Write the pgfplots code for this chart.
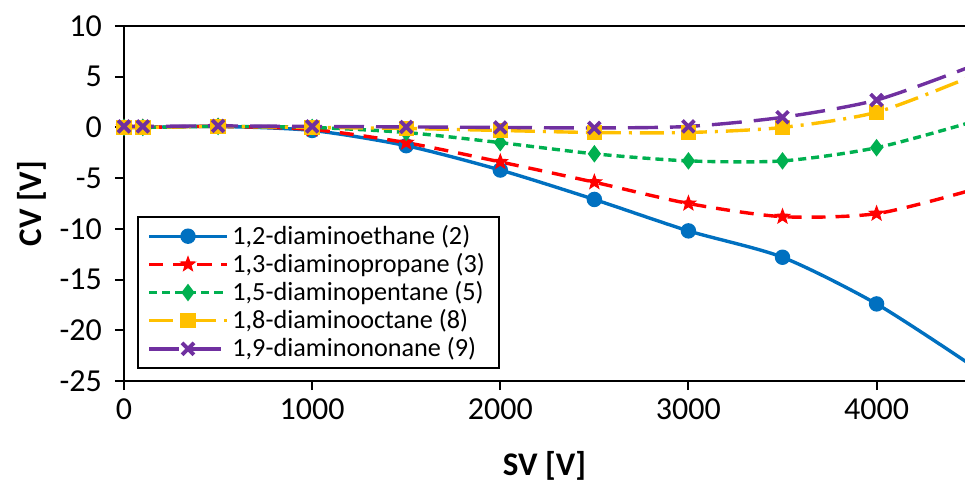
\documentclass[border=0pt]{standalone}
\usepackage{pgfplots}
\pgfplotsset{compat=1.18}
\usepackage{fontspec}
\setmainfont{Carlito}
\definecolor{cblue}{HTML}{0070C0}
\definecolor{cred}{HTML}{FF0000}
\definecolor{cgreen}{HTML}{00B050}
\definecolor{cyellow}{HTML}{FFC000}
\definecolor{cpurple}{HTML}{7030A0}
\pgfdeclareplotmark{fstar}{%
  \pgfpathmoveto{\pgfpointpolar{90}{\pgfplotmarksize}}%
  \pgfpathlineto{\pgfpointpolar{126}{0.42\pgfplotmarksize}}%
  \pgfpathlineto{\pgfpointpolar{162}{\pgfplotmarksize}}%
  \pgfpathlineto{\pgfpointpolar{198}{0.42\pgfplotmarksize}}%
  \pgfpathlineto{\pgfpointpolar{234}{\pgfplotmarksize}}%
  \pgfpathlineto{\pgfpointpolar{270}{0.42\pgfplotmarksize}}%
  \pgfpathlineto{\pgfpointpolar{306}{\pgfplotmarksize}}%
  \pgfpathlineto{\pgfpointpolar{342}{0.42\pgfplotmarksize}}%
  \pgfpathlineto{\pgfpointpolar{18}{\pgfplotmarksize}}%
  \pgfpathlineto{\pgfpointpolar{54}{0.42\pgfplotmarksize}}%
  \pgfpathclose\pgfusepathqfillstroke}
\begin{document}
\begin{tikzpicture}
\begin{axis}[
  scale only axis,
  width=420.5pt, height=177.5pt,
  xmin=0, xmax=4470, ymin=-25, ymax=10,
  xtick={0,1000,2000,3000,4000},
  ytick={-25,-20,-15,-10,-5,0,5,10},
  axis x line*=bottom, axis y line*=left,
  axis line style={-, line width=1pt, black},
  tick align=outside,
  major tick length=4.5pt,
  tick style={line width=1pt, black},
  /pgf/number format/assume math mode=true,
  /pgf/number format/set thousands separator={},
  ticklabel style={font=\fontsize{16}{19}\selectfont},
  yticklabel style={xshift=-3pt},
  xticklabel style={yshift=-1pt},
  xlabel={\textbf{SV [V]}},
  ylabel={\textbf{CV [V]}},
  label style={font=\fontsize{16.5}{19}\selectfont},
  xlabel style={yshift=-9pt},
  ylabel style={yshift=0pt},
  legend cell align=left,
  legend style={at={(rel axis cs:0.015,0.034)}, anchor=south west,
    draw=black, line width=1pt, font=\fontsize{13.1}{15}\selectfont,
    row sep=-1pt, inner xsep=5pt, inner ysep=2pt},
  legend image code/.code={
    \draw[mark repeat=2,mark phase=2] plot coordinates {(0cm,0cm) (0.68cm,0cm) (1.36cm,0cm)};
  },
  every axis plot/.append style={line width=1.7pt, smooth, tension=0.45},
]
\addplot[cblue, mark=*, mark size=3pt, mark options={solid}] coordinates {
(0,0) (100,0) (500,0.1) (1000,-0.3) (1500,-1.8) (2000,-4.2) (2500,-7.1) (3000,-10.2) (3500,-12.8) (4000,-17.4) (4500,-23.4)};
\addlegendentry{1,2-diaminoethane (2)}
\addplot[cred, dash pattern=on 7pt off 5pt, mark=fstar, mark size=3.8pt, mark options={solid, fill=cred, line width=0.5pt}] coordinates {
(0,0) (100,0) (500,0.1) (1000,-0.2) (1500,-1.5) (2000,-3.4) (2500,-5.4) (3000,-7.5) (3500,-8.8) (4000,-8.5) (4500,-6.2)};
\addlegendentry{1,3-diaminopropane (3)}
\addplot[cgreen, dash pattern=on 4pt off 2.5pt, mark=diamond*, mark size=3pt, mark options={solid}] coordinates {
(0,0) (100,0) (500,0.1) (1000,0) (1500,-0.5) (2000,-1.5) (2500,-2.6) (3000,-3.3) (3500,-3.3) (4000,-2.0) (4500,0.5)};
\addlegendentry{1,5-diaminopentane (5)}
\addplot[cyellow, dash pattern=on 12pt off 4pt on 1.5pt off 4pt, mark=square*, mark size=3pt, mark options={solid}] coordinates {
(0,0) (100,0) (500,0.1) (1000,0) (1500,-0.1) (2000,-0.3) (2500,-0.5) (3000,-0.5) (3500,0.0) (4000,1.5) (4500,5.0)};
\addlegendentry{1,8-diaminooctane (8)}
\addplot[cpurple, dash pattern=on 15pt off 6pt, mark=x, mark size=4.2pt, mark options={solid, line width=1.9pt}] coordinates {
(0,0.1) (100,0.1) (500,0.15) (1000,0.1) (1500,0.05) (2000,0) (2500,-0.05) (3000,0.1) (3500,1.0) (4000,2.7) (4500,6.0)};
\addlegendentry{1,9-diaminononane (9)}
\coordinate (ll) at (rel axis cs:0,0);
\coordinate (tl) at (rel axis cs:0,1);
\coordinate (tr) at (rel axis cs:1,1);
\end{axis}
\draw[line width=1pt, black] (tl) -- (tr);
\pgfresetboundingbox
\path[use as bounding box] (ll) ++(-62pt,-51.5pt) rectangle ++(482.5pt,242pt);
\end{tikzpicture}
\end{document}
